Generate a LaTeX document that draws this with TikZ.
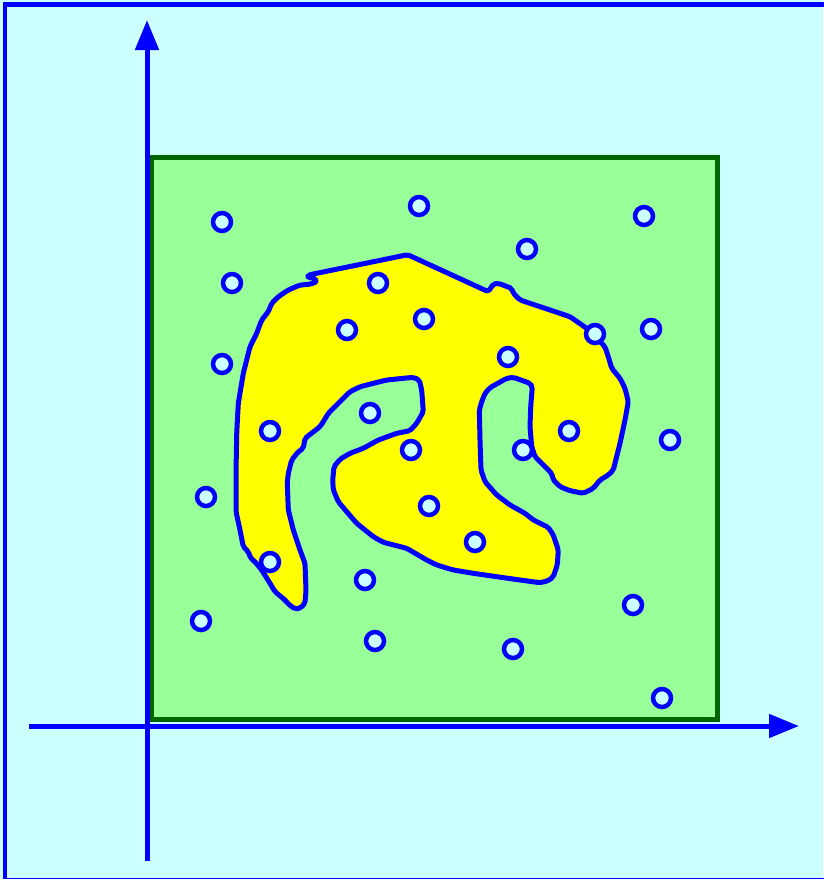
\documentclass[tikz,border=0pt]{standalone}
\usetikzlibrary{arrows.meta}
\definecolor{bgcyan}{HTML}{CCFFFF}
\definecolor{sqgreen}{HTML}{99FF99}
\definecolor{sqedge}{HTML}{006400}
\definecolor{blobyel}{HTML}{FFFF00}
\definecolor{lineblue}{HTML}{0000FF}
\tikzset{
  axis/.style={draw=lineblue,line width=5pt,-{Triangle[length=30pt,width=23pt]}},
  pt/.style={circle,draw=lineblue,fill=bgcyan,line width=4.5pt,minimum size=18pt,inner sep=0pt},
  blob/.style={draw=lineblue,fill=blobyel,line width=5pt,rounded corners=2pt,line join=round},
}
\begin{document}
\begin{tikzpicture}[x=1pt,y=-1pt]
\useasboundingbox (0,0) rectangle (823,879);
\fill[bgcyan] (0,0) rectangle (823,879);
\draw[lineblue,line width=4.5pt] (5,4.5) rectangle (827,880);
\draw[sqedge,fill=sqgreen,line width=5pt] (151,157) rectangle (717,719);
\coordinate (ybot) at (147,861);
\coordinate (ytop) at (147,20);
\coordinate (xleft) at (29,726);
\coordinate (xright) at (799,726);
\draw[axis] (ybot) -- (ytop);
\draw[axis] (xleft) -- (xright);
\draw[blob] (407.7,254.7) -- (488.3,291.7) -- (493.3,284) -- (498.3,283.3) -- (511.7,288.3) -- (513.3,293.3) -- (520,300) -- (570,316.7) -- (586.7,328.3) -- (605,346.7) -- (608.3,356.7) -- (611.7,368.3) -- (620,378.3) -- (625,388.3) -- (628.3,401.7) -- (625,420) -- (620,443.3) -- (613.3,470) -- (608.3,475) -- (600,480) -- (593.3,488.3) -- (583.3,493.3) -- (570,490.7) -- (560,486.7) -- (553.3,480) -- (551.7,473.3) -- (545,466.7) -- (535,456.7) -- (531.7,446.7) -- (530,426.7) -- (530.7,406.7) -- (532.3,386.7) -- (530,383.3) -- (513.3,377.3) -- (506.7,378.3) -- (490,387.7) -- (485,393.3) -- (481.7,401.7) -- (479.3,410) -- (480,440) -- (481,470) -- (485,481.7) -- (496.7,495) -- (510,505) -- (525,513.3) -- (533.3,520) -- (548.3,527.3) -- (553.3,535) -- (558.3,550) -- (557.3,565) -- (553.3,576.7) -- (548.3,580.7) -- (540,582.7) -- (520,580) -- (496.7,576.7) -- (473.3,573.3) -- (453.3,570) -- (436.7,565) -- (426.7,560) -- (406.7,548.3) -- (383.3,542.3) -- (373.3,536.7) -- (356.7,523.3) -- (346.7,511.7) -- (338.3,501.7) -- (333.3,490) -- (332.7,480) -- (334,466.7) -- (340,459.3) -- (350,453.3) -- (363.3,448.3) -- (378.3,440) -- (396.7,433.3) -- (410,430.7) -- (416.7,423.3) -- (423.3,411.7) -- (421.7,390) -- (419.3,380) -- (413.3,377.3) -- (386.7,380) -- (360,386.7) -- (350,391.7) -- (338.3,403.3) -- (328.3,413.3) -- (323.3,421.7) -- (320,426.7) -- (305,438.3) -- (303.3,448.3) -- (298.3,451.7) -- (291.7,460) -- (288.3,473.3) -- (287.3,483.3) -- (288.3,510) -- (293.3,530) -- (300,550) -- (305,563.3) -- (306,590) -- (305,603.3) -- (300,608.3) -- (295,609) -- (288.3,604) -- (285,600) -- (275,591.7) -- (270,583.3) -- (261.7,570) -- (255,561.7) -- (250.7,558.3) -- (248.3,551.7) -- (243.3,546.7) -- (240,530) -- (236,511.7) -- (236,473.3) -- (236.7,433.3) -- (238.3,403.3) -- (243.3,373.3) -- (250,346.7) -- (256.7,333.3) -- (261.7,320) -- (268.3,311.7) -- (271.7,303.3) -- (278.3,296.7) -- (288.3,290) -- (300,285) -- (310,284.3) -- (316.7,281.7) -- (315,278.3) -- (307.7,277.3) -- (308.3,275) -- cycle;
\foreach \n/\x/\y in {a/222/222, b/419/206, c/644/216, d/527/249, e/232/283, f/378/283, g/347/330, h/424/319, i/651/329, j/595/334, k/222/364, l/508/357, m/370/413, n/270/431, o/411/450, p/523/450, q/569/431, r/670/440, s/206/497, t/429/506, u/475/542, v/270/562, w/365/580, x/633/605, y/201/621, z/375/641, aa/513/649, ab/662/698}
  \node[pt] (p\n) at (\x,\y) {};
\end{tikzpicture}
\end{document}
